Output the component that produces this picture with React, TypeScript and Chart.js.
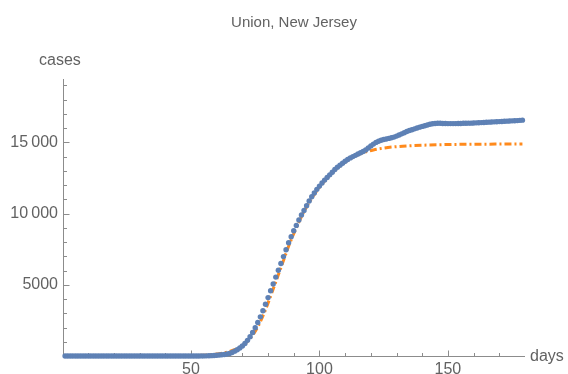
import React, { useEffect, useRef } from "react";
import { Chart, registerables } from "chart.js";

Chart.register(...registerables);

const TITLE = "Union, New Jersey";
const X_LABEL = "days";
const Y_LABEL = "cases";

const X_MIN = 0;
const X_MAX = 180;
const Y_MIN = 0;
const Y_MAX = 19450;

const X_TICKS = [50, 100, 150];
const Y_TICKS = [5000, 10000, 15000];
const X_MINOR_STEP = 10;
const Y_MINOR_STEP = 1000;

const FIRST_DAY = 1;

// reported cumulative cases, one value per day starting at FIRST_DAY
const reportedCases = [
  0, 0, 0, 0, 0, 0, 0, 0, 0, 0,
  0, 0, 0, 0, 0, 0, 0, 0, 0, 0,
  0, 0, 0, 0, 0, 0, 0, 0, 0, 0,
  0, 0, 0, 0, 0, 0, 0, 0, 0, 0,
  0, 0, 0, 0, 0, 0, 0, 0, 1, 1,
  2, 3, 4, 6, 8, 12, 18, 26, 36, 50,
  65, 85, 110, 140, 180, 250, 340, 440, 560, 700,
  880, 1100, 1350, 1650, 1980, 2350, 2750, 3180, 3630, 4100,
  4580, 5060, 5540, 6020, 6500, 6980, 7460, 7950, 8380, 8790,
  9170, 9550, 9900, 10220, 10550, 10880, 11180, 11450, 11700, 11930,
  12150, 12350, 12540, 12720, 12900, 13100, 13260, 13400, 13530, 13670,
  13800, 13910, 14000, 14090, 14180, 14270, 14360, 14460, 14600, 14750,
  14880, 15000, 15080, 15150, 15200, 15240, 15280, 15320, 15370, 15440,
  15520, 15600, 15680, 15760, 15830, 15890, 15950, 16010, 16070, 16120,
  16170, 16220, 16270, 16310, 16330, 16340, 16340, 16330, 16330, 16320,
  16320, 16320, 16320, 16330, 16330, 16340, 16340, 16350, 16350, 16360,
  16370, 16380, 16390, 16400, 16410, 16420, 16430, 16440, 16450, 16460,
  16470, 16480, 16490, 16500, 16510, 16520, 16530, 16545, 16560,
];

// fitted model curve
const fitDays = [1, 30, 45, 50, 55, 58, 61, 64, 67, 70, 73, 76, 79, 82, 85, 88, 91, 94, 97, 100, 103, 106, 109, 112, 115, 118, 121, 125, 130, 135, 140, 150, 160, 170, 179];
const fitCases = [0, 1, 10, 25, 60, 100, 165, 270, 440, 730, 1220, 2050, 3250, 4700, 6200, 7700, 9000, 10150, 11080, 11850, 12500, 13030, 13480, 13850, 14120, 14330, 14470, 14600, 14700, 14760, 14800, 14850, 14870, 14880, 14890];

const BLUE = "#5E81B5";
const ORANGE = "#FF8A1C";
const AXIS = "#8c8c8c";
const TEXT = "#626262";
const FONT = "'Liberation Sans', Arial, sans-serif";

function fmt(v: number): string {
  if (v >= 10000) {
    const s = String(v);
    return s.slice(0, s.length - 3) + "\u2009" + s.slice(s.length - 3);
  }
  return String(v);
}

const decor = {
  id: "decor",
  beforeDatasetsDraw(chart: any) {
    const { ctx, scales } = chart;
    const x = scales.x;
    const y = scales.y;
    const x0 = Math.round(x.getPixelForValue(X_MIN)) + 0.5;
    const x1 = x.getPixelForValue(X_MAX);
    const y0 = Math.round(y.getPixelForValue(Y_MIN)) + 0.5;
    const y1 = y.getPixelForValue(Y_MAX);
    ctx.save();
    ctx.strokeStyle = AXIS;
    ctx.lineWidth = 1;
    ctx.beginPath();
    ctx.moveTo(x0, y0);
    ctx.lineTo(x1, y0);
    ctx.moveTo(x0, y0);
    ctx.lineTo(x0, y1);
    for (let v = X_MIN + X_MINOR_STEP; v < X_MAX; v += X_MINOR_STEP) {
      const px = Math.round(x.getPixelForValue(v)) + 0.5;
      const len = X_TICKS.includes(v) ? 6 : 3.5;
      ctx.moveTo(px, y0);
      ctx.lineTo(px, y0 - len);
    }
    for (let v = Y_MIN + Y_MINOR_STEP; v < Y_MAX; v += Y_MINOR_STEP) {
      const py = Math.round(y.getPixelForValue(v)) + 0.5;
      const len = Y_TICKS.includes(v) ? 6 : 3.5;
      ctx.moveTo(x0, py);
      ctx.lineTo(x0 + len, py);
    }
    ctx.stroke();
    ctx.restore();
  },
  afterDraw(chart: any) {
    const { ctx } = chart;
    ctx.save();
    ctx.fillStyle = TEXT;
    ctx.textBaseline = "alphabetic";
    ctx.font = `15px ${FONT}`;
    ctx.textAlign = "center";
    ctx.fillText(TITLE, 294, 26.5);
    ctx.font = `16px ${FONT}`;
    ctx.textAlign = "left";
    ctx.fillText(Y_LABEL, 39, 65);
    ctx.fillText(X_LABEL, 530, 361);
    ctx.restore();
  },
};

export default function App() {
  const ref = useRef<HTMLCanvasElement>(null);
  useEffect(() => {
    if (!ref.current) return;
    const blue = reportedCases.map((v, i) => ({ x: FIRST_DAY + i, y: v }));
    const orange = fitDays.map((d, i) => ({ x: d, y: fitCases[i] }));
    const chart = new Chart(ref.current, {
      type: "line",
      data: {
        datasets: [
          {
            label: "reported",
            data: blue,
            showLine: false,
            pointRadius: 2.7,
            pointBorderWidth: 0,
            pointBackgroundColor: BLUE,
            pointBorderColor: BLUE,
            backgroundColor: BLUE,
            borderColor: BLUE,
            clip: false as any,
          },
          {
            label: "fit",
            data: orange,
            borderColor: ORANGE,
            borderWidth: 3,
            borderDash: [7, 3, 2, 3],
            pointRadius: 0,
            cubicInterpolationMode: "monotone",
            fill: false,
            clip: false as any,
          },
        ],
      },
      options: {
        animation: false,
        responsive: false,
        devicePixelRatio: 1,
        layout: { padding: { left: 0, right: 43, top: 79, bottom: 0 } },
        plugins: {
          legend: { display: false },
          tooltip: { enabled: false },
          title: { display: false },
        },
        scales: {
          x: {
            type: "linear",
            min: X_MIN,
            max: X_MAX,
            grid: { display: false, drawTicks: false },
            border: { display: false },
            afterBuildTicks: (s: any) => {
              s.ticks = X_TICKS.map((v) => ({ value: v }));
            },
            afterFit: (s: any) => {
              s.height = 18;
            },
            ticks: {
              autoSkip: false,
              maxRotation: 0,
              padding: 4,
              color: TEXT,
              font: { family: FONT, size: 16 },
              callback: (v: any) => fmt(Number(v)),
            },
          },
          y: {
            type: "linear",
            min: Y_MIN,
            max: Y_MAX,
            grid: { display: false, drawTicks: false },
            border: { display: false },
            afterBuildTicks: (s: any) => {
              s.ticks = Y_TICKS.map((v) => ({ value: v }));
            },
            afterFit: (s: any) => {
              s.width = 62.5;
            },
            ticks: {
              autoSkip: false,
              padding: 4.5,
              color: TEXT,
              font: { family: FONT, size: 16 },
              callback: (v: any) => fmt(Number(v)),
            },
          },
        },
      },
      plugins: [decor],
    });
    return () => chart.destroy();
  }, []);
  return (
    <div style={{ position: "absolute", left: 0, top: 0, width: 568, height: 374, background: "#fff" }}>
      <canvas ref={ref} width={568} height={374} style={{ width: 568, height: 374, display: "block" }} />
    </div>
  );
}
